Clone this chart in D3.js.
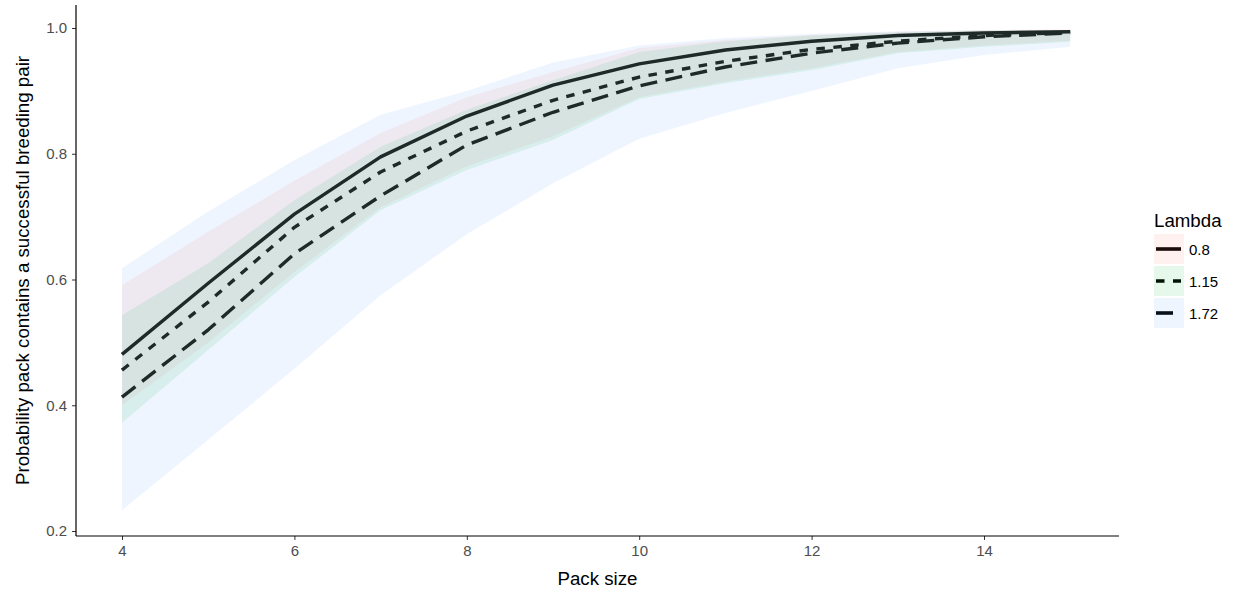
<!DOCTYPE html>
<html>
<head>
<meta charset="utf-8">
<script src="https://cdn.jsdelivr.net/npm/d3@7"></script>
<style>
  html, body { margin: 0; padding: 0; background: #fff; }
  svg { display: block; font-family: "Liberation Sans", Arial, sans-serif; }
</style>
</head>
<body>
<svg id="chart" width="1238" height="596"></svg>
<script>
// ---- Data ----
const packSize = [4, 5, 6, 7, 8, 9, 10, 11, 12, 13, 14, 15];
const lambdaLevels = ["0.8", "1.15", "1.72"];

const mean08  = [0.481, 0.594, 0.704, 0.795, 0.860, 0.909, 0.943, 0.965, 0.979, 0.988, 0.992, 0.994];
const mean115 = [0.456, 0.564, 0.683, 0.771, 0.836, 0.885, 0.922, 0.947, 0.966, 0.979, 0.988, 0.993];
const mean172 = [0.413, 0.520, 0.641, 0.733, 0.814, 0.866, 0.908, 0.938, 0.960, 0.976, 0.986, 0.992];

const lo08  = [0.400, 0.500, 0.612, 0.715, 0.780, 0.828, 0.890, 0.915, 0.936, 0.962, 0.972, 0.980];
const hi08  = [0.591, 0.676, 0.757, 0.833, 0.890, 0.930, 0.968, 0.981, 0.989, 0.994, 0.997, 0.998];
const lo115 = [0.372, 0.488, 0.604, 0.710, 0.774, 0.822, 0.887, 0.912, 0.933, 0.960, 0.970, 0.978];
const hi115 = [0.543, 0.626, 0.726, 0.811, 0.870, 0.917, 0.962, 0.979, 0.988, 0.993, 0.996, 0.997];
const lo172 = [0.233, 0.345, 0.458, 0.575, 0.672, 0.753, 0.824, 0.865, 0.900, 0.936, 0.957, 0.970];
const hi172 = [0.618, 0.708, 0.790, 0.862, 0.900, 0.945, 0.972, 0.984, 0.991, 0.995, 0.996, 0.997];

const xTicks = [4, 6, 8, 10, 12, 14];
const yTicks = [0.2, 0.4, 0.6, 0.8, 1.0];

const fills = ["#F8766D", "#00BA38", "#619CFF"];
const dashes = [null, "8.5,8.5", "17,8.5"];

const series = [
  { name: lambdaLevels[0], mean: mean08,  lo: lo08,  hi: hi08 },
  { name: lambdaLevels[1], mean: mean115, lo: lo115, hi: hi115 },
  { name: lambdaLevels[2], mean: mean172, lo: lo172, hi: hi172 }
];

// ---- Layout ----
const svg = d3.select("#chart");
const x = d3.scaleLinear().domain([4, 14]).range([122, 984]);
const y = d3.scaleLinear().domain([0.2, 1.0]).range([531, 28]);
const panel = { left: 76, right: 1119, top: 5, bottom: 536 };

const g = svg.append("g");

// lines first (ribbons drawn on top, as in the reference)
const line = d3.line().x((d, i) => x(packSize[i])).y(d => y(d));
series.forEach((s, k) => {
  g.append("path")
    .attr("d", line(s.mean))
    .attr("fill", "none")
    .attr("stroke", "#000")
    .attr("stroke-width", 3.4)
    .attr("stroke-dasharray", dashes[k])
    .attr("stroke-linejoin", "round");
});

const area = d3.area()
  .x((d, i) => x(packSize[i]))
  .y0(d => y(d[0]))
  .y1(d => y(d[1]));
series.forEach((s, k) => {
  const pts = s.lo.map((v, i) => [v, s.hi[i]]);
  g.append("path")
    .attr("d", area(pts))
    .attr("fill", fills[k])
    .attr("fill-opacity", 0.1);
});

// ---- Axes ----
const xAxis = d3.axisBottom(x).tickValues(xTicks).tickSize(4).tickSizeOuter(0).tickPadding(5);
const yAxis = d3.axisLeft(y).tickValues(yTicks).tickFormat(d3.format(".1f")).tickSize(4).tickSizeOuter(0).tickPadding(5);

const gx = svg.append("g").attr("transform", `translate(0,${panel.bottom})`).call(xAxis);
const gy = svg.append("g").attr("transform", `translate(${panel.left},0)`).call(yAxis);
[gx, gy].forEach(a => {
  a.select(".domain").remove();
  a.selectAll(".tick line").attr("stroke", "#333").attr("stroke-width", 1);
  a.selectAll(".tick text").attr("fill", "#4d4d4d").style("font-size", "15px")
    .style("font-family", "'Liberation Sans', Arial, sans-serif");
});
svg.append("line").attr("x1", panel.left).attr("x2", panel.right)
  .attr("y1", panel.bottom).attr("y2", panel.bottom).attr("stroke", "#000").attr("stroke-width", 1.2);
svg.append("line").attr("x1", panel.left).attr("x2", panel.left)
  .attr("y1", panel.top).attr("y2", panel.bottom).attr("stroke", "#000").attr("stroke-width", 1.2);

// axis titles
svg.append("text").attr("x", (panel.left + panel.right) / 2).attr("y", 585)
  .attr("text-anchor", "middle").style("font-size", "18.7px").attr("fill", "#000")
  .text("Pack size");
svg.append("text")
  .attr("transform", `translate(29,${(panel.top + panel.bottom) / 2}) rotate(-90)`)
  .attr("text-anchor", "middle").style("font-size", "18.7px").attr("fill", "#000")
  .text("Probability pack contains a successful breeding pair");

// ---- Legend ----
const lg = svg.append("g").attr("transform", "translate(1154,0)");
lg.append("text").attr("x", 0).attr("y", 227).style("font-size", "18.7px").attr("fill", "#000").text("Lambda");
const keyTops = [234, 266, 298];
series.forEach((s, k) => {
  const ty = keyTops[k];
  lg.append("rect").attr("x", 0).attr("y", ty).attr("width", 30).attr("height", 30).attr("fill", "#fff");
  lg.append("line").attr("x1", 2).attr("x2", 27).attr("y1", ty + 15).attr("y2", ty + 15)
    .attr("stroke", "#000").attr("stroke-width", 3.6).attr("stroke-dasharray", dashes[k]);
  lg.append("rect").attr("x", 0).attr("y", ty).attr("width", 30).attr("height", 30)
    .attr("fill", fills[k]).attr("fill-opacity", 0.1);
  lg.append("text").attr("x", 35).attr("y", ty + 21).style("font-size", "15px").attr("fill", "#000").text(s.name);
});
</script>
</body>
</html>
